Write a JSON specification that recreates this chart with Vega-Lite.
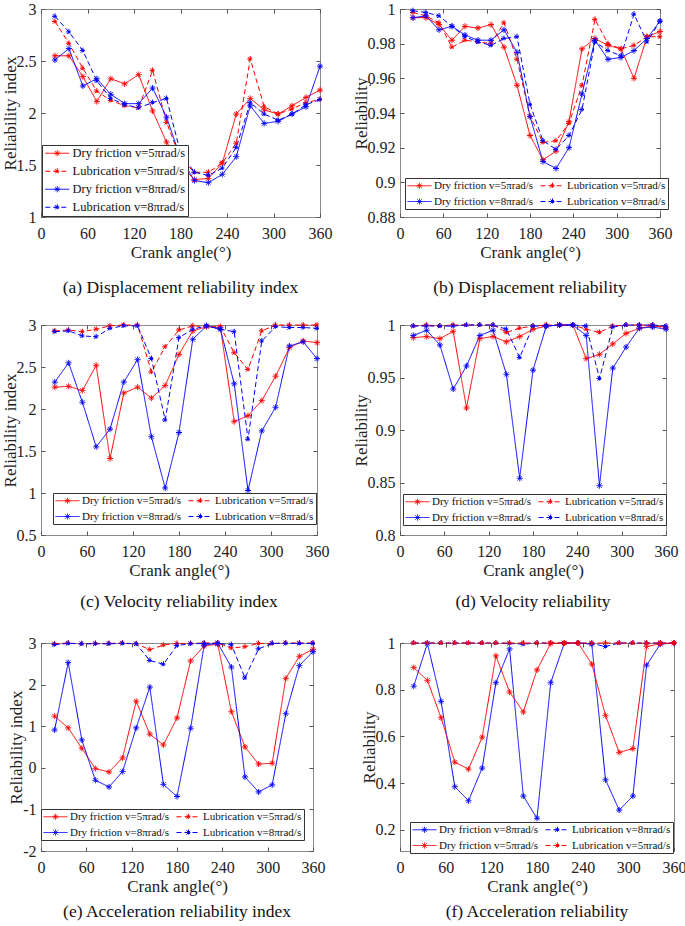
{
"$schema": "https://vega.github.io/schema/vega-lite/v6.json",
"background": "white",
"padding": {"left": 0, "top": 0, "right": 0, "bottom": 0},
"config": {
  "view": {"stroke": "#8a8a8a", "strokeWidth": 1},
  "axis": {"grid": false, "domain": false, "labelFlush": false, "labelOverlap": false, "tickColor": "#555", "tickSize": -4, "labelFont": "Liberation Serif", "labelFontSize": 16, "labelColor": "#222", "titleFont": "Liberation Serif", "titleFontSize": 17, "titleFontWeight": "normal", "titleColor": "#222"},
  "axisX": {"labelPadding": 12, "titlePadding": 3},
  "axisY": {"labelPadding": 9, "titlePadding": -3, "titleFontSize": 17},
  "legend": {"labelFont": "Liberation Serif", "labelFontSize": 11, "labelColor": "#111", "strokeColor": "#333", "fillColor": "white", "padding": 2, "symbolType": "M-2.4,0L2.4,0M0,-0.6L0,0.6M-0.6,0L0.6,0M-0.42,-0.42L0.42,0.42M-0.42,0.42L0.42,-0.42", "symbolSize": 100, "symbolOffset": 7, "symbolStrokeWidth": 1, "labelOffset": 9, "rowPadding": 4, "columnPadding": 4, "labelLimit": 300},
  "title": {"orient": "bottom", "font": "Liberation Serif", "fontSize": 17.5, "fontWeight": "normal", "color": "#111", "offset": 19, "anchor": "middle"}
},
"datasets": {
"a": [
{"s":"D5","x":18,"y":2.55},{"s":"D5","x":36,"y":2.55},{"s":"D5","x":54,"y":2.35},{"s":"D5","x":72,"y":2.11},{"s":"D5","x":90,"y":2.33},{"s":"D5","x":108,"y":2.28},{"s":"D5","x":126,"y":2.37},{"s":"D5","x":144,"y":2.02},{"s":"D5","x":162,"y":1.72},{"s":"D5","x":180,"y":1.5},{"s":"D5","x":198,"y":1.36},{"s":"D5","x":216,"y":1.37},{"s":"D5","x":234,"y":1.52},{"s":"D5","x":252,"y":1.99},{"s":"D5","x":270,"y":2.14},{"s":"D5","x":288,"y":2.03},{"s":"D5","x":306,"y":1.99},{"s":"D5","x":324,"y":2.07},{"s":"D5","x":342,"y":2.15},{"s":"D5","x":360,"y":2.22},
{"s":"L5","x":18,"y":2.88},{"s":"L5","x":36,"y":2.67},{"s":"L5","x":54,"y":2.43},{"s":"L5","x":72,"y":2.21},{"s":"L5","x":90,"y":2.12},{"s":"L5","x":108,"y":2.07},{"s":"L5","x":126,"y":2.05},{"s":"L5","x":144,"y":2.41},{"s":"L5","x":162,"y":1.91},{"s":"L5","x":180,"y":1.56},{"s":"L5","x":198,"y":1.43},{"s":"L5","x":216,"y":1.43},{"s":"L5","x":234,"y":1.52},{"s":"L5","x":252,"y":1.71},{"s":"L5","x":270,"y":2.52},{"s":"L5","x":288,"y":2.06},{"s":"L5","x":306,"y":1.99},{"s":"L5","x":324,"y":2.04},{"s":"L5","x":342,"y":2.1},{"s":"L5","x":360,"y":2.13},
{"s":"D8","x":18,"y":2.51},{"s":"D8","x":36,"y":2.62},{"s":"D8","x":54,"y":2.26},{"s":"D8","x":72,"y":2.33},{"s":"D8","x":90,"y":2.18},{"s":"D8","x":108,"y":2.09},{"s":"D8","x":126,"y":2.09},{"s":"D8","x":144,"y":2.24},{"s":"D8","x":162,"y":1.96},{"s":"D8","x":180,"y":1.57},{"s":"D8","x":198,"y":1.35},{"s":"D8","x":216,"y":1.33},{"s":"D8","x":234,"y":1.41},{"s":"D8","x":252,"y":1.58},{"s":"D8","x":270,"y":2.07},{"s":"D8","x":288,"y":1.9},{"s":"D8","x":306,"y":1.92},{"s":"D8","x":324,"y":1.99},{"s":"D8","x":342,"y":2.06},{"s":"D8","x":360,"y":2.45},
{"s":"L8","x":18,"y":2.93},{"s":"L8","x":36,"y":2.78},{"s":"L8","x":54,"y":2.6},{"s":"L8","x":72,"y":2.31},{"s":"L8","x":90,"y":2.14},{"s":"L8","x":108,"y":2.08},{"s":"L8","x":126,"y":2.05},{"s":"L8","x":144,"y":2.1},{"s":"L8","x":162,"y":2.14},{"s":"L8","x":180,"y":1.62},{"s":"L8","x":198,"y":1.43},{"s":"L8","x":216,"y":1.4},{"s":"L8","x":234,"y":1.47},{"s":"L8","x":252,"y":1.67},{"s":"L8","x":270,"y":2.1},{"s":"L8","x":288,"y":1.99},{"s":"L8","x":306,"y":1.93},{"s":"L8","x":324,"y":1.99},{"s":"L8","x":342,"y":2.08},{"s":"L8","x":360,"y":2.13}
],
"b": [
{"s":"D5","x":18,"y":0.995},{"s":"D5","x":36,"y":0.995},{"s":"D5","x":54,"y":0.991},{"s":"D5","x":72,"y":0.982},{"s":"D5","x":90,"y":0.99},{"s":"D5","x":108,"y":0.989},{"s":"D5","x":126,"y":0.991},{"s":"D5","x":144,"y":0.978},{"s":"D5","x":162,"y":0.956},{"s":"D5","x":180,"y":0.927},{"s":"D5","x":198,"y":0.913},{"s":"D5","x":216,"y":0.918},{"s":"D5","x":234,"y":0.935},{"s":"D5","x":252,"y":0.977},{"s":"D5","x":270,"y":0.983},{"s":"D5","x":288,"y":0.979},{"s":"D5","x":306,"y":0.977},{"s":"D5","x":324,"y":0.96},{"s":"D5","x":342,"y":0.984},{"s":"D5","x":360,"y":0.987},
{"s":"L5","x":18,"y":0.998},{"s":"L5","x":36,"y":0.996},{"s":"L5","x":54,"y":0.992},{"s":"L5","x":72,"y":0.978},{"s":"L5","x":90,"y":0.982},{"s":"L5","x":108,"y":0.981},{"s":"L5","x":126,"y":0.98},{"s":"L5","x":144,"y":0.992},{"s":"L5","x":162,"y":0.971},{"s":"L5","x":180,"y":0.938},{"s":"L5","x":198,"y":0.923},{"s":"L5","x":216,"y":0.924},{"s":"L5","x":234,"y":0.934},{"s":"L5","x":252,"y":0.956},{"s":"L5","x":270,"y":0.994},{"s":"L5","x":288,"y":0.98},{"s":"L5","x":306,"y":0.977},{"s":"L5","x":324,"y":0.979},{"s":"L5","x":342,"y":0.984},{"s":"L5","x":360,"y":0.984},
{"s":"D8","x":18,"y":0.995},{"s":"D8","x":36,"y":0.996},{"s":"D8","x":54,"y":0.988},{"s":"D8","x":72,"y":0.99},{"s":"D8","x":90,"y":0.985},{"s":"D8","x":108,"y":0.982},{"s":"D8","x":126,"y":0.982},{"s":"D8","x":144,"y":0.988},{"s":"D8","x":162,"y":0.975},{"s":"D8","x":180,"y":0.938},{"s":"D8","x":198,"y":0.912},{"s":"D8","x":216,"y":0.908},{"s":"D8","x":234,"y":0.92},{"s":"D8","x":252,"y":0.951},{"s":"D8","x":270,"y":0.982},{"s":"D8","x":288,"y":0.971},{"s":"D8","x":306,"y":0.972},{"s":"D8","x":324,"y":0.976},{"s":"D8","x":342,"y":0.983},{"s":"D8","x":360,"y":0.993},
{"s":"L8","x":18,"y":0.999},{"s":"L8","x":36,"y":0.998},{"s":"L8","x":54,"y":0.996},{"s":"L8","x":72,"y":0.99},{"s":"L8","x":90,"y":0.984},{"s":"L8","x":108,"y":0.981},{"s":"L8","x":126,"y":0.979},{"s":"L8","x":144,"y":0.983},{"s":"L8","x":162,"y":0.984},{"s":"L8","x":180,"y":0.945},{"s":"L8","x":198,"y":0.924},{"s":"L8","x":216,"y":0.919},{"s":"L8","x":234,"y":0.927},{"s":"L8","x":252,"y":0.942},{"s":"L8","x":270,"y":0.981},{"s":"L8","x":288,"y":0.976},{"s":"L8","x":306,"y":0.973},{"s":"L8","x":324,"y":0.997},{"s":"L8","x":342,"y":0.981},{"s":"L8","x":360,"y":0.993}
],
"c": [
{"s":"D5","x":18,"y":2.26},{"s":"D5","x":36,"y":2.27},{"s":"D5","x":54,"y":2.22},{"s":"D5","x":72,"y":2.52},{"s":"D5","x":90,"y":1.41},{"s":"D5","x":108,"y":2.19},{"s":"D5","x":126,"y":2.26},{"s":"D5","x":144,"y":2.13},{"s":"D5","x":162,"y":2.28},{"s":"D5","x":180,"y":2.65},{"s":"D5","x":198,"y":2.93},{"s":"D5","x":216,"y":2.98},{"s":"D5","x":234,"y":2.97},{"s":"D5","x":252,"y":1.85},{"s":"D5","x":270,"y":1.92},{"s":"D5","x":288,"y":2.1},{"s":"D5","x":306,"y":2.39},{"s":"D5","x":324,"y":2.73},{"s":"D5","x":342,"y":2.81},{"s":"D5","x":360,"y":2.79},
{"s":"L5","x":18,"y":2.93},{"s":"L5","x":36,"y":2.94},{"s":"L5","x":54,"y":2.92},{"s":"L5","x":72,"y":2.95},{"s":"L5","x":90,"y":2.99},{"s":"L5","x":108,"y":3.0},{"s":"L5","x":126,"y":3.0},{"s":"L5","x":144,"y":2.44},{"s":"L5","x":162,"y":2.74},{"s":"L5","x":180,"y":2.94},{"s":"L5","x":198,"y":2.99},{"s":"L5","x":216,"y":2.98},{"s":"L5","x":234,"y":2.98},{"s":"L5","x":252,"y":2.67},{"s":"L5","x":270,"y":2.47},{"s":"L5","x":288,"y":2.93},{"s":"L5","x":306,"y":3.0},{"s":"L5","x":324,"y":3.0},{"s":"L5","x":342,"y":3.0},{"s":"L5","x":360,"y":3.0},
{"s":"D8","x":18,"y":2.32},{"s":"D8","x":36,"y":2.55},{"s":"D8","x":54,"y":2.08},{"s":"D8","x":72,"y":1.55},{"s":"D8","x":90,"y":1.76},{"s":"D8","x":108,"y":2.32},{"s":"D8","x":126,"y":2.59},{"s":"D8","x":144,"y":1.67},{"s":"D8","x":162,"y":1.06},{"s":"D8","x":180,"y":1.72},{"s":"D8","x":198,"y":2.83},{"s":"D8","x":216,"y":2.99},{"s":"D8","x":234,"y":2.95},{"s":"D8","x":252,"y":2.3},{"s":"D8","x":270,"y":1.03},{"s":"D8","x":288,"y":1.74},{"s":"D8","x":306,"y":2.02},{"s":"D8","x":324,"y":2.75},{"s":"D8","x":342,"y":2.8},{"s":"D8","x":360,"y":2.6},
{"s":"L8","x":18,"y":2.92},{"s":"L8","x":36,"y":2.93},{"s":"L8","x":54,"y":2.87},{"s":"L8","x":72,"y":2.86},{"s":"L8","x":90,"y":2.96},{"s":"L8","x":108,"y":2.99},{"s":"L8","x":126,"y":2.99},{"s":"L8","x":144,"y":2.6},{"s":"L8","x":162,"y":1.87},{"s":"L8","x":180,"y":2.85},{"s":"L8","x":198,"y":2.95},{"s":"L8","x":216,"y":2.99},{"s":"L8","x":234,"y":2.95},{"s":"L8","x":252,"y":2.92},{"s":"L8","x":270,"y":1.64},{"s":"L8","x":288,"y":2.81},{"s":"L8","x":306,"y":2.98},{"s":"L8","x":324,"y":2.97},{"s":"L8","x":342,"y":2.97},{"s":"L8","x":360,"y":2.96}
],
"d": [
{"s":"D5","x":18,"y":0.988},{"s":"D5","x":36,"y":0.989},{"s":"D5","x":54,"y":0.987},{"s":"D5","x":72,"y":0.994},{"s":"D5","x":90,"y":0.921},{"s":"D5","x":108,"y":0.987},{"s":"D5","x":126,"y":0.989},{"s":"D5","x":144,"y":0.984},{"s":"D5","x":162,"y":0.989},{"s":"D5","x":180,"y":0.996},{"s":"D5","x":198,"y":0.999},{"s":"D5","x":216,"y":1.0},{"s":"D5","x":234,"y":1.0},{"s":"D5","x":252,"y":0.968},{"s":"D5","x":270,"y":0.972},{"s":"D5","x":288,"y":0.982},{"s":"D5","x":306,"y":0.992},{"s":"D5","x":324,"y":0.997},{"s":"D5","x":342,"y":0.999},{"s":"D5","x":360,"y":0.998},
{"s":"L5","x":18,"y":0.999},{"s":"L5","x":36,"y":1.0},{"s":"L5","x":54,"y":0.999},{"s":"L5","x":72,"y":1.0},{"s":"L5","x":90,"y":1.0},{"s":"L5","x":108,"y":1.0},{"s":"L5","x":126,"y":1.0},{"s":"L5","x":144,"y":0.993},{"s":"L5","x":162,"y":0.997},{"s":"L5","x":180,"y":0.999},{"s":"L5","x":198,"y":1.0},{"s":"L5","x":216,"y":1.0},{"s":"L5","x":234,"y":1.0},{"s":"L5","x":252,"y":0.996},{"s":"L5","x":270,"y":0.993},{"s":"L5","x":288,"y":0.999},{"s":"L5","x":306,"y":1.0},{"s":"L5","x":324,"y":1.0},{"s":"L5","x":342,"y":1.0},{"s":"L5","x":360,"y":0.997},
{"s":"D8","x":18,"y":0.99},{"s":"D8","x":36,"y":0.995},{"s":"D8","x":54,"y":0.981},{"s":"D8","x":72,"y":0.939},{"s":"D8","x":90,"y":0.961},{"s":"D8","x":108,"y":0.99},{"s":"D8","x":126,"y":0.995},{"s":"D8","x":144,"y":0.953},{"s":"D8","x":162,"y":0.854},{"s":"D8","x":180,"y":0.957},{"s":"D8","x":198,"y":0.999},{"s":"D8","x":216,"y":1.0},{"s":"D8","x":234,"y":1.0},{"s":"D8","x":252,"y":0.99},{"s":"D8","x":270,"y":0.847},{"s":"D8","x":288,"y":0.959},{"s":"D8","x":306,"y":0.979},{"s":"D8","x":324,"y":0.997},{"s":"D8","x":342,"y":0.998},{"s":"D8","x":360,"y":0.996},
{"s":"L8","x":18,"y":0.999},{"s":"L8","x":36,"y":0.999},{"s":"L8","x":54,"y":0.999},{"s":"L8","x":72,"y":0.999},{"s":"L8","x":90,"y":1.0},{"s":"L8","x":108,"y":1.0},{"s":"L8","x":126,"y":1.0},{"s":"L8","x":144,"y":0.996},{"s":"L8","x":162,"y":0.969},{"s":"L8","x":180,"y":0.999},{"s":"L8","x":198,"y":0.999},{"s":"L8","x":216,"y":1.0},{"s":"L8","x":234,"y":1.0},{"s":"L8","x":252,"y":0.999},{"s":"L8","x":270,"y":0.949},{"s":"L8","x":288,"y":0.998},{"s":"L8","x":306,"y":1.0},{"s":"L8","x":324,"y":1.0},{"s":"L8","x":342,"y":1.0},{"s":"L8","x":360,"y":0.999}
],
"e": [
{"s":"D5","x":18,"y":1.24},{"s":"D5","x":36,"y":0.96},{"s":"D5","x":54,"y":0.47},{"s":"D5","x":72,"y":-0.02},{"s":"D5","x":90,"y":-0.1},{"s":"D5","x":108,"y":0.24},{"s":"D5","x":126,"y":1.6},{"s":"D5","x":144,"y":0.81},{"s":"D5","x":162,"y":0.55},{"s":"D5","x":180,"y":1.2},{"s":"D5","x":198,"y":2.57},{"s":"D5","x":216,"y":2.93},{"s":"D5","x":234,"y":2.97},{"s":"D5","x":252,"y":1.35},{"s":"D5","x":270,"y":0.5},{"s":"D5","x":288,"y":0.09},{"s":"D5","x":306,"y":0.11},{"s":"D5","x":324,"y":2.15},{"s":"D5","x":342,"y":2.68},{"s":"D5","x":360,"y":2.85},
{"s":"L5","x":18,"y":2.98},{"s":"L5","x":36,"y":3.0},{"s":"L5","x":54,"y":2.98},{"s":"L5","x":72,"y":2.99},{"s":"L5","x":90,"y":2.99},{"s":"L5","x":108,"y":3.0},{"s":"L5","x":126,"y":2.98},{"s":"L5","x":144,"y":2.84},{"s":"L5","x":162,"y":2.95},{"s":"L5","x":180,"y":2.99},{"s":"L5","x":198,"y":2.99},{"s":"L5","x":216,"y":3.0},{"s":"L5","x":234,"y":3.0},{"s":"L5","x":252,"y":2.88},{"s":"L5","x":270,"y":2.91},{"s":"L5","x":288,"y":2.99},{"s":"L5","x":306,"y":2.99},{"s":"L5","x":324,"y":3.0},{"s":"L5","x":342,"y":3.0},{"s":"L5","x":360,"y":3.0},
{"s":"D8","x":18,"y":0.91},{"s":"D8","x":36,"y":2.53},{"s":"D8","x":54,"y":0.67},{"s":"D8","x":72,"y":-0.3},{"s":"D8","x":90,"y":-0.46},{"s":"D8","x":108,"y":-0.09},{"s":"D8","x":126,"y":0.96},{"s":"D8","x":144,"y":1.94},{"s":"D8","x":162,"y":-0.4},{"s":"D8","x":180,"y":-0.69},{"s":"D8","x":198,"y":0.95},{"s":"D8","x":216,"y":2.95},{"s":"D8","x":234,"y":2.99},{"s":"D8","x":252,"y":2.42},{"s":"D8","x":270,"y":-0.22},{"s":"D8","x":288,"y":-0.58},{"s":"D8","x":306,"y":-0.41},{"s":"D8","x":324,"y":1.3},{"s":"D8","x":342,"y":2.46},{"s":"D8","x":360,"y":2.79},
{"s":"L8","x":18,"y":2.96},{"s":"L8","x":36,"y":2.99},{"s":"L8","x":54,"y":2.98},{"s":"L8","x":72,"y":2.98},{"s":"L8","x":90,"y":2.98},{"s":"L8","x":108,"y":2.99},{"s":"L8","x":126,"y":2.98},{"s":"L8","x":144,"y":2.58},{"s":"L8","x":162,"y":2.49},{"s":"L8","x":180,"y":2.94},{"s":"L8","x":198,"y":2.98},{"s":"L8","x":216,"y":2.99},{"s":"L8","x":234,"y":2.99},{"s":"L8","x":252,"y":2.96},{"s":"L8","x":270,"y":2.16},{"s":"L8","x":288,"y":2.86},{"s":"L8","x":306,"y":2.99},{"s":"L8","x":324,"y":2.99},{"s":"L8","x":342,"y":2.99},{"s":"L8","x":360,"y":2.99}
],
"f": [
{"s":"D8","x":18,"y":0.815},{"s":"D8","x":36,"y":0.998},{"s":"D8","x":54,"y":0.75},{"s":"D8","x":72,"y":0.385},{"s":"D8","x":90,"y":0.325},{"s":"D8","x":108,"y":0.465},{"s":"D8","x":126,"y":0.83},{"s":"D8","x":144,"y":0.975},{"s":"D8","x":162,"y":0.345},{"s":"D8","x":180,"y":0.25},{"s":"D8","x":198,"y":0.83},{"s":"D8","x":216,"y":1.0},{"s":"D8","x":234,"y":1.0},{"s":"D8","x":252,"y":0.995},{"s":"D8","x":270,"y":0.415},{"s":"D8","x":288,"y":0.285},{"s":"D8","x":306,"y":0.345},{"s":"D8","x":324,"y":0.905},{"s":"D8","x":342,"y":0.995},{"s":"D8","x":360,"y":1.0},
{"s":"L8","x":18,"y":1.0},{"s":"L8","x":36,"y":1.0},{"s":"L8","x":54,"y":1.0},{"s":"L8","x":72,"y":1.0},{"s":"L8","x":90,"y":1.0},{"s":"L8","x":108,"y":1.0},{"s":"L8","x":126,"y":1.0},{"s":"L8","x":144,"y":0.998},{"s":"L8","x":162,"y":0.995},{"s":"L8","x":180,"y":1.0},{"s":"L8","x":198,"y":1.0},{"s":"L8","x":216,"y":1.0},{"s":"L8","x":234,"y":1.0},{"s":"L8","x":252,"y":0.998},{"s":"L8","x":270,"y":0.985},{"s":"L8","x":288,"y":1.0},{"s":"L8","x":306,"y":1.0},{"s":"L8","x":324,"y":1.0},{"s":"L8","x":342,"y":1.0},{"s":"L8","x":360,"y":1.0},
{"s":"D5","x":18,"y":0.895},{"s":"D5","x":36,"y":0.84},{"s":"D5","x":54,"y":0.68},{"s":"D5","x":72,"y":0.49},{"s":"D5","x":90,"y":0.46},{"s":"D5","x":108,"y":0.597},{"s":"D5","x":126,"y":0.945},{"s":"D5","x":144,"y":0.79},{"s":"D5","x":162,"y":0.705},{"s":"D5","x":180,"y":0.885},{"s":"D5","x":198,"y":0.998},{"s":"D5","x":216,"y":1.0},{"s":"D5","x":234,"y":1.0},{"s":"D5","x":252,"y":0.91},{"s":"D5","x":270,"y":0.69},{"s":"D5","x":288,"y":0.532},{"s":"D5","x":306,"y":0.548},{"s":"D5","x":324,"y":0.985},{"s":"D5","x":342,"y":0.997},{"s":"D5","x":360,"y":1.0},
{"s":"L5","x":18,"y":1.0},{"s":"L5","x":36,"y":1.0},{"s":"L5","x":54,"y":1.0},{"s":"L5","x":72,"y":1.0},{"s":"L5","x":90,"y":1.0},{"s":"L5","x":108,"y":1.0},{"s":"L5","x":126,"y":1.0},{"s":"L5","x":144,"y":1.0},{"s":"L5","x":162,"y":1.0},{"s":"L5","x":180,"y":1.0},{"s":"L5","x":198,"y":1.0},{"s":"L5","x":216,"y":1.0},{"s":"L5","x":234,"y":1.0},{"s":"L5","x":252,"y":1.0},{"s":"L5","x":270,"y":1.0},{"s":"L5","x":288,"y":1.0},{"s":"L5","x":306,"y":1.0},{"s":"L5","x":324,"y":1.0},{"s":"L5","x":342,"y":1.0},{"s":"L5","x":360,"y":1.0}
]
},
"columns": 2,
"align": "none",
"bounds": "flush",
"spacing": {"row": 108, "column": 80},
"resolve": {"scale": {"color": "independent", "strokeDash": "independent", "x": "independent", "y": "independent"}, "legend": {"color": "independent", "strokeDash": "independent"}},
"concat": [
{
 "width": 279, "height": 208,
 "data": {"name": "a"},
 "title": {"text": "(a) Displacement reliability index"},
 "layer": [
  {"mark": {"type": "line", "strokeWidth": 1, "point": {"shape": "M0,-1L0,1M-1,0L1,0M-0.7,-0.7L0.7,0.7M-0.7,0.7L0.7,-0.7", "filled": false, "size": 36, "strokeWidth": 1}},
   "encoding": {
    "x": {"field": "x", "type": "quantitative", "scale": {"domain": [0, 360], "nice": false, "zero": false}, "axis": {"values": [0, 60, 120, 180, 240, 300, 360], "title": "Crank angle(°)"}},
    "y": {"field": "y", "type": "quantitative", "scale": {"domain": [1, 3], "nice": false, "zero": false}, "axis": {"values": [1, 1.5, 2, 2.5, 3], "labelExpr": "'' + datum.value", "title": "Reliability index"}},
    "color": {"field": "s", "type": "nominal", "scale": {"domain": ["D5", "L5", "D8", "L8"], "range": ["#ff0000", "#ff0000", "#0000ff", "#0000ff"]}, "legend": {"title": null, "orient": "none", "legendX": 1, "legendY": 136, "columns": 1, "labelFontSize": 12.5, "rowPadding": 5, "labelExpr": "datum.label=='D5'?'Dry friction v=5πrad/s':datum.label=='L5'?'Lubrication v=5πrad/s':datum.label=='D8'?'Dry friction v=8πrad/s':'Lubrication v=8πrad/s'"}},
    "strokeDash": {"field": "s", "type": "nominal", "scale": {"domain": ["D5", "L5", "D8", "L8"], "range": [[1, 0], [5, 3], [1, 0], [5, 3]]}}
   }},
  {"mark": {"type": "point", "opacity": 0},
   "encoding": {
    "x": {"field": "x", "type": "quantitative", "axis": {"orient": "top", "labels": false, "title": null, "values": [0, 60, 120, 180, 240, 300, 360]}},
    "y": {"field": "y", "type": "quantitative", "axis": {"orient": "right", "labels": false, "title": null, "values": [1, 1.5, 2, 2.5, 3]}}
   }}
 ],
 "resolve": {"axis": {"x": "independent", "y": "independent"}}
},
{
 "width": 260, "height": 208,
 "data": {"name": "b"},
 "title": {"text": "(b) Displacement reliability"},
 "layer": [
  {"mark": {"type": "line", "strokeWidth": 1, "point": {"shape": "M0,-1L0,1M-1,0L1,0M-0.7,-0.7L0.7,0.7M-0.7,0.7L0.7,-0.7", "filled": false, "size": 36, "strokeWidth": 1}},
   "encoding": {
    "x": {"field": "x", "type": "quantitative", "scale": {"domain": [0, 360], "nice": false, "zero": false}, "axis": {"values": [0, 60, 120, 180, 240, 300, 360], "title": "Crank angle(°)"}},
    "y": {"field": "y", "type": "quantitative", "scale": {"domain": [0.88, 1], "nice": false, "zero": false}, "axis": {"values": [0.88, 0.9, 0.92, 0.94, 0.96, 0.98, 1], "labelExpr": "'' + datum.value", "title": "Reliability"}},
    "color": {"field": "s", "type": "nominal", "scale": {"domain": ["D5", "L5", "D8", "L8"], "range": ["#ff0000", "#ff0000", "#0000ff", "#0000ff"]}, "legend": {"title": null, "orient": "none", "direction": "horizontal", "legendX": 5, "legendY": 169, "columns": 2, "labelExpr": "datum.label=='D5'?'Dry friction v=5πrad/s':datum.label=='L5'?'Lubrication v=5πrad/s':datum.label=='D8'?'Dry friction v=8πrad/s':'Lubrication v=8πrad/s'"}},
    "strokeDash": {"field": "s", "type": "nominal", "scale": {"domain": ["D5", "L5", "D8", "L8"], "range": [[1, 0], [5, 3], [1, 0], [5, 3]]}}
   }},
  {"mark": {"type": "point", "opacity": 0},
   "encoding": {
    "x": {"field": "x", "type": "quantitative", "axis": {"orient": "top", "labels": false, "title": null, "values": [0, 60, 120, 180, 240, 300, 360]}},
    "y": {"field": "y", "type": "quantitative", "axis": {"orient": "right", "labels": false, "title": null, "values": [0.88, 0.9, 0.92, 0.94, 0.96, 0.98, 1]}}
   }}
 ],
 "resolve": {"axis": {"x": "independent", "y": "independent"}}
},
{
 "width": 276, "height": 210,
 "data": {"name": "c"},
 "title": {"text": "(c) Velocity reliability index", "offset": 15},
 "layer": [
  {"mark": {"type": "line", "strokeWidth": 1, "point": {"shape": "M0,-1L0,1M-1,0L1,0M-0.7,-0.7L0.7,0.7M-0.7,0.7L0.7,-0.7", "filled": false, "size": 36, "strokeWidth": 1}},
   "encoding": {
    "x": {"field": "x", "type": "quantitative", "scale": {"domain": [0, 360], "nice": false, "zero": false}, "axis": {"values": [0, 60, 120, 180, 240, 300, 360], "title": "Crank angle(°)"}},
    "y": {"field": "y", "type": "quantitative", "scale": {"domain": [0.5, 3], "nice": false, "zero": false}, "axis": {"values": [0.5, 1, 1.5, 2, 2.5, 3], "labelExpr": "'' + datum.value", "title": "Reliability index"}},
    "color": {"field": "s", "type": "nominal", "scale": {"domain": ["D5", "L5", "D8", "L8"], "range": ["#ff0000", "#ff0000", "#0000ff", "#0000ff"]}, "legend": {"title": null, "orient": "none", "direction": "horizontal", "legendX": 12, "legendY": 168, "columns": 2, "labelExpr": "datum.label=='D5'?'Dry friction v=5πrad/s':datum.label=='L5'?'Lubrication v=5πrad/s':datum.label=='D8'?'Dry friction v=8πrad/s':'Lubrication v=8πrad/s'"}},
    "strokeDash": {"field": "s", "type": "nominal", "scale": {"domain": ["D5", "L5", "D8", "L8"], "range": [[1, 0], [5, 3], [1, 0], [5, 3]]}}
   }},
  {"mark": {"type": "point", "opacity": 0},
   "encoding": {
    "x": {"field": "x", "type": "quantitative", "axis": {"orient": "top", "labels": false, "title": null, "values": [0, 60, 120, 180, 240, 300, 360]}},
    "y": {"field": "y", "type": "quantitative", "axis": {"orient": "right", "labels": false, "title": null, "values": [0.5, 1, 1.5, 2, 2.5, 3]}}
   }}
 ],
 "resolve": {"axis": {"x": "independent", "y": "independent"}}
},
{
 "width": 266, "height": 210,
 "data": {"name": "d"},
 "title": {"text": "(d) Velocity reliability", "offset": 15},
 "layer": [
  {"mark": {"type": "line", "strokeWidth": 1, "point": {"shape": "M0,-1L0,1M-1,0L1,0M-0.7,-0.7L0.7,0.7M-0.7,0.7L0.7,-0.7", "filled": false, "size": 36, "strokeWidth": 1}},
   "encoding": {
    "x": {"field": "x", "type": "quantitative", "scale": {"domain": [0, 360], "nice": false, "zero": false}, "axis": {"values": [0, 60, 120, 180, 240, 300, 360], "title": "Crank angle(°)"}},
    "y": {"field": "y", "type": "quantitative", "scale": {"domain": [0.8, 1], "nice": false, "zero": false}, "axis": {"values": [0.8, 0.85, 0.9, 0.95, 1], "labelExpr": "'' + datum.value", "title": "Reliability"}},
    "color": {"field": "s", "type": "nominal", "scale": {"domain": ["D5", "L5", "D8", "L8"], "range": ["#ff0000", "#ff0000", "#0000ff", "#0000ff"]}, "legend": {"title": null, "orient": "none", "direction": "horizontal", "legendX": 3, "legendY": 169, "columns": 2, "labelExpr": "datum.label=='D5'?'Dry friction v=5πrad/s':datum.label=='L5'?'Lubrication v=5πrad/s':datum.label=='D8'?'Dry friction v=8πrad/s':'Lubrication v=8πrad/s'"}},
    "strokeDash": {"field": "s", "type": "nominal", "scale": {"domain": ["D5", "L5", "D8", "L8"], "range": [[1, 0], [5, 3], [1, 0], [5, 3]]}}
   }},
  {"mark": {"type": "point", "opacity": 0},
   "encoding": {
    "x": {"field": "x", "type": "quantitative", "axis": {"orient": "top", "labels": false, "title": null, "values": [0, 60, 120, 180, 240, 300, 360]}},
    "y": {"field": "y", "type": "quantitative", "axis": {"orient": "right", "labels": false, "title": null, "values": [0.8, 0.85, 0.9, 0.95, 1]}}
   }}
 ],
 "resolve": {"axis": {"x": "independent", "y": "independent"}}
},
{
 "width": 272, "height": 208,
 "data": {"name": "e"},
 "title": {"text": "(e) Acceleration reliability index", "offset": 9},
 "layer": [
  {"mark": {"type": "line", "strokeWidth": 1, "point": {"shape": "M0,-1L0,1M-1,0L1,0M-0.7,-0.7L0.7,0.7M-0.7,0.7L0.7,-0.7", "filled": false, "size": 36, "strokeWidth": 1}},
   "encoding": {
    "x": {"field": "x", "type": "quantitative", "scale": {"domain": [0, 360], "nice": false, "zero": false}, "axis": {"values": [0, 60, 120, 180, 240, 300, 360], "title": "Crank angle(°)"}},
    "y": {"field": "y", "type": "quantitative", "scale": {"domain": [-2, 3], "nice": false, "zero": false}, "axis": {"values": [-2, -1, 0, 1, 2, 3], "labelExpr": "'' + datum.value", "title": "Reliability index"}},
    "color": {"field": "s", "type": "nominal", "scale": {"domain": ["D5", "L5", "D8", "L8"], "range": ["#ff0000", "#ff0000", "#0000ff", "#0000ff"]}, "legend": {"title": null, "orient": "none", "direction": "horizontal", "legendX": 0, "legendY": 166, "columns": 2, "labelExpr": "datum.label=='D5'?'Dry friction v=5πrad/s':datum.label=='L5'?'Lubrication v=5πrad/s':datum.label=='D8'?'Dry friction v=8πrad/s':'Lubrication v=8πrad/s'"}},
    "strokeDash": {"field": "s", "type": "nominal", "scale": {"domain": ["D5", "L5", "D8", "L8"], "range": [[1, 0], [5, 3], [1, 0], [5, 3]]}}
   }},
  {"mark": {"type": "point", "opacity": 0},
   "encoding": {
    "x": {"field": "x", "type": "quantitative", "axis": {"orient": "top", "labels": false, "title": null, "values": [0, 60, 120, 180, 240, 300, 360]}},
    "y": {"field": "y", "type": "quantitative", "axis": {"orient": "right", "labels": false, "title": null, "values": [-2, -1, 0, 1, 2, 3]}}
   }}
 ],
 "resolve": {"axis": {"x": "independent", "y": "independent"}}
},
{
 "width": 274, "height": 208,
 "data": {"name": "f"},
 "title": {"text": "(f) Acceleration reliability", "offset": 9},
 "layer": [
  {"mark": {"type": "line", "strokeWidth": 1, "point": {"shape": "M0,-1L0,1M-1,0L1,0M-0.7,-0.7L0.7,0.7M-0.7,0.7L0.7,-0.7", "filled": false, "size": 36, "strokeWidth": 1}},
   "encoding": {
    "x": {"field": "x", "type": "quantitative", "scale": {"domain": [0, 360], "nice": false, "zero": false}, "axis": {"values": [0, 60, 120, 180, 240, 300, 360], "title": "Crank angle(°)"}},
    "y": {"field": "y", "type": "quantitative", "scale": {"domain": [0.11, 1], "nice": false, "zero": false}, "axis": {"values": [0.2, 0.4, 0.6, 0.8, 1], "labelExpr": "'' + datum.value", "title": "Reliability"}},
    "color": {"field": "s", "type": "nominal", "scale": {"domain": ["D8", "L8", "D5", "L5"], "range": ["#0000ff", "#0000ff", "#ff0000", "#ff0000"]}, "legend": {"title": null, "orient": "none", "direction": "horizontal", "legendX": 10, "legendY": 179, "columns": 2, "labelExpr": "datum.label=='D5'?'Dry friction v=5πrad/s':datum.label=='L5'?'Lubrication v=5πrad/s':datum.label=='D8'?'Dry friction v=8πrad/s':'Lubrication v=8πrad/s'"}},
    "strokeDash": {"field": "s", "type": "nominal", "scale": {"domain": ["D8", "L8", "D5", "L5"], "range": [[1, 0], [5, 3], [1, 0], [5, 3]]}}
   }},
  {"mark": {"type": "point", "opacity": 0},
   "encoding": {
    "x": {"field": "x", "type": "quantitative", "axis": {"orient": "top", "labels": false, "title": null, "values": [0, 60, 120, 180, 240, 300, 360]}},
    "y": {"field": "y", "type": "quantitative", "axis": {"orient": "right", "labels": false, "title": null, "values": [0.2, 0.4, 0.6, 0.8, 1]}}
   }}
 ],
 "resolve": {"axis": {"x": "independent", "y": "independent"}}
}
]
}
